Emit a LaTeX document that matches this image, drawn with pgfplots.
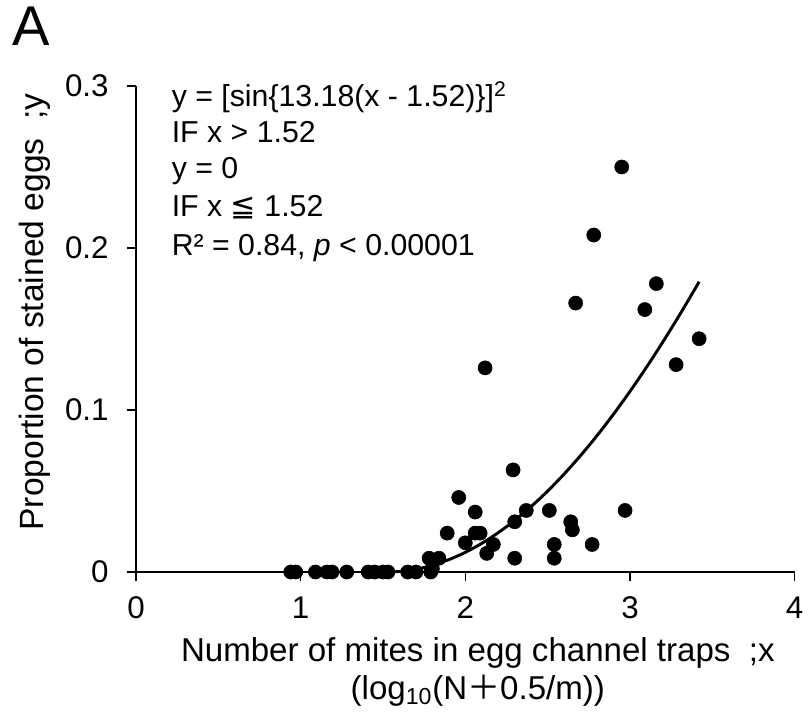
\documentclass[border=0pt]{standalone}
\usepackage{pgfplots}
\pgfplotsset{compat=1.18}
\usepackage{fontspec}
\setmainfont{Liberation Sans}
\newfontfamily\dejavu{DejaVu Sans}
\newfontfamily\cjk{Noto Sans CJK JP}
\begin{document}
\begin{tikzpicture}
\path[use as bounding box] (-102pt,-109.5pt) rectangle (504pt,429pt);
\begin{axis}[
  scale only axis, width=494pt, height=364.5pt,
  xmin=0, xmax=4, ymin=0, ymax=0.3,
  axis lines=left, axis line style={-, line width=1pt},
  tick align=outside, major tick length=7pt,
  every tick/.style={line width=0.9pt, black},
  xtick={0,1,2,3,4}, ytick={0,0.1,0.2,0.3},
  clip=false,
  /pgf/number format/assume math mode=true,
  ticklabel style={font=\fontsize{23.5}{28}\selectfont},
  yticklabel style={/pgf/number format/fixed, /pgf/number format/precision=1, xshift=-10pt},
  xticklabel style={yshift=-8pt},
  xlabel={Number of mites in egg channel traps \ ;x\\(log\textsubscript{10}(N{\cjk ＋}0.5/m))},
  xlabel style={at={(axis description cs:0.519,-0.134)}, anchor=north, align=center, inner sep=0pt, font=\fontsize{24.8}{28.5}\selectfont},
  ylabel={Proportion of stained eggs \ ;y},
  ylabel style={at={(axis description cs:-0.153,0.535)}, anchor=center, font=\fontsize{25.2}{28}\selectfont},
]
\addplot[only marks, mark=*, mark size=5.3pt, mark options={fill=black, draw=black}] table {
x y
0.94 0
0.97 0
1.09 0
1.16 0
1.19 0
1.28 0
1.41 0
1.45 0
1.50 0
1.53 0
1.65 0
1.70 0
1.79 0
1.80 0.002
1.78 0.0085
1.84 0.0085
1.89 0.024
1.96 0.046
2.00 0.018
2.06 0.037
2.06 0.024
2.09 0.024
2.12 0.126
2.13 0.0115
2.17 0.017
2.29 0.063
2.30 0.031
2.30 0.0085
2.37 0.038
2.51 0.038
2.54 0.017
2.54 0.0085
2.64 0.031
2.65 0.026
2.67 0.166
2.77 0.017
2.78 0.208
2.95 0.250
2.97 0.038
3.09 0.162
3.16 0.178
3.28 0.128
3.42 0.144
};
\addplot[black, line width=2.2pt, smooth] coordinates {
(1.52,0) (1.6,0.00034) (1.7,0.00171) (1.8,0.00414) (1.9,0.00762)
(2.0,0.01214) (2.1,0.01769) (2.2,0.02427) (2.3,0.03185) (2.4,0.04043)
(2.5,0.04997) (2.6,0.06047) (2.7,0.07189) (2.8,0.08422) (2.9,0.09744)
(3.0,0.11150) (3.1,0.12639) (3.2,0.14207) (3.3,0.15851) (3.4,0.17566)
(3.42,0.17918)
};
\node[anchor=north west, align=left, inner sep=0pt, font=\fontsize{22.7}{27}\selectfont]
  at (axis description cs:0.054,1.010)
  {y = [sin\{13.18(x - 1.52)\}]\textsuperscript{2}\\
   IF x > 1.52\\
   y = 0\\[2pt]
   IF x {\dejavu ≦} 1.52\\[2pt]
   R² = 0.84, \textit{p} < 0.00001};
\node[anchor=north west, inner sep=0pt, font=\fontsize{42}{46}\selectfont]
  at (axis description cs:-0.188,1.164) {A};
\end{axis}
\end{tikzpicture}
\end{document}
